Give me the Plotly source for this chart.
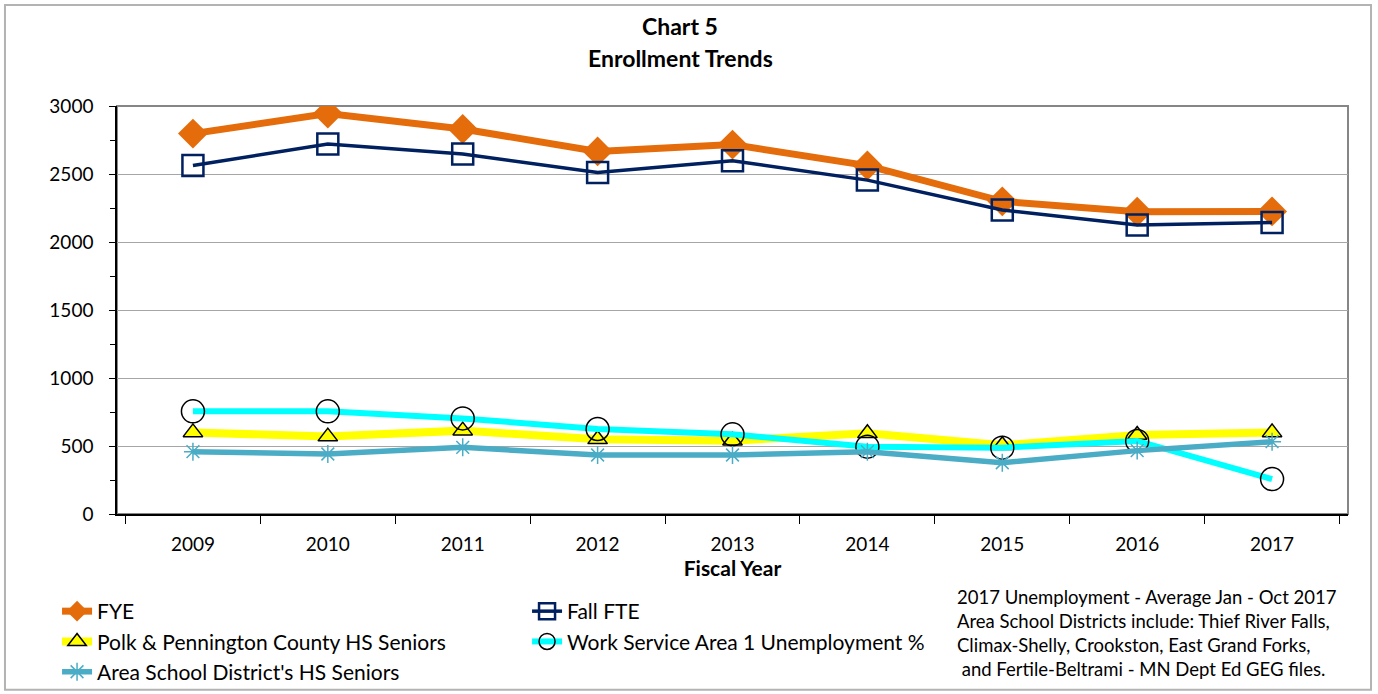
import plotly.graph_objects as go

years = ['2009', '2010', '2011', '2012', '2013', '2014', '2015', '2016', '2017']

fye = [2797, 2944, 2831, 2666, 2716, 2562, 2299, 2222, 2225]
fall_fte = [2562, 2721, 2647, 2511, 2597, 2455, 2235, 2125, 2144]
polk_seniors = [600, 569, 613, 549, 539, 593, 505, 581, 600]
unemployment = [755, 755, 703, 625, 586, 495, 488, 537, 257]
area_seniors = [458, 441, 490, 434, 434, 458, 377, 466, 532]

note_lines = [
    '2017 Unemployment - Average Jan - Oct 2017',
    'Area School Districts include: Thief River Falls,',
    'Climax-Shelly, Crookston, East Grand Forks,',
    ' and Fertile-Beltrami - MN Dept Ed GEG files.',
]

FONT = 'Lato'

fig = go.Figure()

fig.add_trace(go.Scatter(
    x=years, y=fye, name='FYE', mode='lines+markers',
    line=dict(color='#E46C0A', width=7),
    marker=dict(symbol='diamond', size=23, color='#E46C0A'),
))
fig.add_trace(go.Scatter(
    x=years, y=fall_fte, name='Fall FTE', mode='lines+markers',
    line=dict(color='#002060', width=3.5),
    marker=dict(symbol='square-open', size=21, color='#002060', line=dict(width=2.5)),
))
fig.add_trace(go.Scatter(
    x=years, y=polk_seniors, name='Polk & Pennington County HS Seniors', mode='lines+markers',
    line=dict(color='#FFFF00', width=8),
    marker=dict(symbol='triangle-up', size=17, color='#FFFF00', line=dict(color='black', width=1.5)),
))
fig.add_trace(go.Scatter(
    x=years, y=unemployment, name='Work Service Area 1 Unemployment %', mode='lines+markers',
    line=dict(color='#00FFFF', width=6),
    marker=dict(symbol='circle-open', size=23, color='black', line=dict(width=1.5)),
))
fig.add_trace(go.Scatter(
    x=years, y=area_seniors, name="Area School District's HS Seniors", mode='lines+markers',
    line=dict(color='#4BACC6', width=5.5),
    marker=dict(symbol='asterisk-open', size=15, color='#4BACC6', line=dict(width=1.5, color='#4BACC6')),
))

# chart title (two lines)
fig.add_annotation(text='<b>Chart 5</b>', x=0.4574, y=1.196, xref='paper', yref='paper',
                   xanchor='center', yanchor='middle', showarrow=False,
                   font=dict(size=23, color='black', family=FONT))
fig.add_annotation(text='<b>Enrollment Trends</b>', x=0.4574, y=1.1176, xref='paper', yref='paper',
                   xanchor='center', yanchor='middle', showarrow=False,
                   font=dict(size=23, color='black', family=FONT))

fig.add_annotation(text='<br>'.join(note_lines), x=0.6807, y=-0.1716, xref='paper', yref='paper',
                   xanchor='left', yanchor='top', align='left', showarrow=False,
                   font=dict(size=18.5, color='black', family=FONT))

# outer chart border and plot area border
fig.add_shape(type='rect', xref='paper', yref='paper', x0=-0.091, x1=1.0187, y0=-0.431, y1=1.2475,
              line=dict(color='#B3B3B3', width=2), layer='below')
fig.add_shape(type='rect', xref='paper', yref='paper', x0=0, x1=1, y0=0, y1=1,
              line=dict(color='#868686', width=2), layer='below')

fig.update_xaxes(
    title=dict(text='<b>Fiscal Year</b>', font=dict(size=21, color='black', family=FONT), standoff=8),
    tickson='boundaries', ticks='outside', ticklen=8, tickcolor='black',
    showline=True, linecolor='black', linewidth=1.5, showgrid=False,
    ticklabelstandoff=12,
    tickfont=dict(size=19, color='black', family=FONT),
)
fig.update_yaxes(
    range=[0, 3000], dtick=500, ticks='outside', ticklen=6, tickcolor='black',
    showline=True, linecolor='black', linewidth=1.5,
    gridcolor='#A6A6A6', gridwidth=1, zeroline=False,
    minor=dict(dtick=250, ticks='outside', ticklen=5, tickcolor='black', showgrid=False),
    ticklabelstandoff=12,
    tickfont=dict(size=19, color='black', family=FONT),
)

fig.update_layout(
    width=1378, height=694,
    margin=dict(l=117, r=30, t=106, b=180),
    paper_bgcolor='white', plot_bgcolor='white',
    font=dict(family=FONT, color='black'),
    legend=dict(
        orientation='h', xref='container', yref='container',
        x=0.0414, y=0.1484, xanchor='left', yanchor='top',
        entrywidth=425, font=dict(size=21, color='black', family=FONT),
        itemwidth=30, tracegroupgap=0, bgcolor='rgba(0,0,0,0)',
    ),
)

fig.write_html('out.html', config={'displayModeBar': False},
               post_script="document.body.style.margin='0';")
